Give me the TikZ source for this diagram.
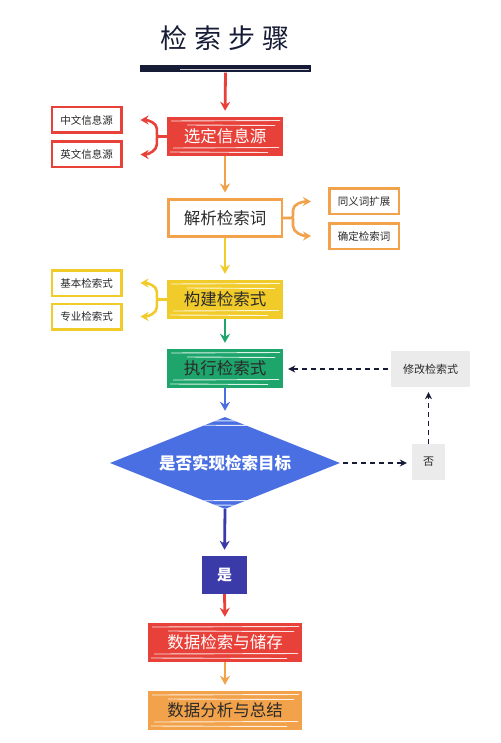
\documentclass[tikz,border=0pt]{standalone}
\usepackage{fontspec}
\setmainfont{Noto Sans CJK SC}
\usetikzlibrary{arrows.meta,shapes.geometric}
\definecolor{cred}{HTML}{E8413A}
\definecolor{corange}{HTML}{F1A24A}
\definecolor{cyellow}{HTML}{F1CB2A}
\definecolor{cgreen}{HTML}{1DA56B}
\definecolor{cblue}{HTML}{4A6FE3}
\definecolor{cindigo}{HTML}{3A3AA8}
\definecolor{cgray}{HTML}{EBEBEB}
\definecolor{cnavy}{HTML}{161B36}
\definecolor{textdark}{HTML}{2A2A2A}
\begin{document}
\begin{tikzpicture}[x=1pt,y=-1pt,
  arr/.style={line width=2.8pt,-{Stealth[length=9pt,width=10pt]},shorten >=6pt},
  brace/.style={line width=2.6pt,-{Stealth[length=8pt,width=9pt]},rounded corners=2pt},
  dasharr/.style={line width=1.8pt,cnavy,dash pattern=on 5pt off 4pt,-{Stealth[length=7pt,width=7pt]}},
  fillbox/.style={minimum width=116pt,minimum height=39pt,inner sep=0pt,
     font=\fontsize{16.5}{16.5}\selectfont,streaks},
  whitebox/.style={draw,fill=white,line width=2.5pt,minimum width=113.5pt,minimum height=36.5pt,
     inner sep=0pt,font=\fontsize{16.5}{16.5}\selectfont,text=textdark},
  smallbox/.style={draw,fill=white,line width=2.5pt,minimum width=69.5pt,minimum height=25.5pt,
     inner sep=0pt,font=\fontsize{10.5}{10.5}\selectfont,text=textdark},
  graybox/.style={fill=cgray,inner sep=0pt,font=\fontsize{11}{11}\selectfont,text=textdark},
  streaks/.style={path picture={
     \draw[white,line width=0.9pt,opacity=0.85]
       ([xshift=4pt,yshift=-4pt]path picture bounding box.north west) -- ([xshift=-3pt,yshift=-3.5pt]path picture bounding box.north east)
       ([xshift=20pt,yshift=-8pt]path picture bounding box.north west) -- ([xshift=-8pt,yshift=-8.5pt]path picture bounding box.north east)
       ([xshift=6pt,yshift=8pt]path picture bounding box.south west) -- ([xshift=-4pt,yshift=8.5pt]path picture bounding box.south east)
       ([xshift=3pt,yshift=4pt]path picture bounding box.south west) -- ([xshift=-15pt,yshift=3.5pt]path picture bounding box.south east);
  }}
]
\useasboundingbox (0,0) rectangle (500,743);
\fill[white] (0,0) rectangle (500,743);

% title and bar
\node[font=\fontsize{27}{27}\selectfont,text=cnavy] (title) at (225,38) {检\hspace{7pt}索\hspace{7pt}步\hspace{7pt}骤};
\node[fill=cnavy,minimum width=171pt,minimum height=7pt,inner sep=0pt] (bar) at (225.5,69) {};
\draw[white,line width=0.6pt,opacity=0.8] ([xshift=40pt]bar.west) -- ([xshift=-2pt]bar.east);

% main column
\node[fillbox,fill=cred,text=white] (sel) at (225,136.5) {选定信息源};
\node[whitebox,draw=corange] (parse) at (225,218) {解析检索词};
\node[fillbox,fill=cyellow,text=textdark] (build) at (225,299.5) {构建检索式};
\node[fillbox,fill=cgreen,text=textdark] (exec) at (225,368.5) {执行检索式};
\node[diamond,fill=cblue,shape aspect=3,minimum width=230pt,minimum height=92pt,inner sep=0pt,
      text=white,font=\bfseries\fontsize{16.5}{16.5}\selectfont,streaks] (goal) at (225,463) {是否实现检索目标};
\node[fill=cindigo,minimum width=45pt,minimum height=38pt,inner sep=0pt,text=white,
      font=\bfseries\fontsize{15}{15}\selectfont] (yes) at (224.5,575) {是};
\node[fillbox,fill=cred,text=white,minimum width=154pt] (store) at (225,642.5) {数据检索与储存};
\node[fillbox,fill=corange,text=textdark,minimum width=154pt] (anal) at (225,710.5) {数据分析与总结};

% side boxes
\node[smallbox,draw=cred] (zh) at (86.5,120) {中文信息源};
\node[smallbox,draw=cred] (en) at (86.5,154.5) {英文信息源};
\node[smallbox,draw=corange] (syn) at (364,201.5) {同义词扩展};
\node[smallbox,draw=corange] (conf) at (364,236) {确定检索词};
\node[smallbox,draw=cyellow] (basic) at (86.5,283) {基本检索式};
\node[smallbox,draw=cyellow] (pro) at (86.5,316.5) {专业检索式};
\node[graybox,minimum width=79pt,minimum height=36pt] (modify) at (430.5,369) {修改检索式};
\node[graybox,minimum width=33pt,minimum height=36pt] (no) at (428.5,462) {否};

% main arrows
\draw[arr,cred] (bar.south) -- (sel.north);
\draw[arr,corange] (sel.south) -- (parse.north);
\draw[arr,cyellow] (parse.south) -- (build.north);
\draw[arr,cgreen] (build.south) -- (exec.north);
\draw[arr,cblue] (exec.south) -- (goal.north);
\draw[arr,cindigo] (goal.south) -- (yes.north);
\draw[arr,cred] (yes.south) -- (store.north);
\draw[arr,corange] (store.south) -- (anal.north);

% braces
\draw[brace,cred] (sel.west) -- ++(-10,0) coordinate (j1) -- ++(0,-6) to[out=90,in=0] ([xshift=18pt]zh.east);
\draw[brace,cred] (j1) -- ++(0,6) to[out=-90,in=0] ([xshift=18pt]en.east);
\draw[brace,corange] (parse.east) -- ++(10,0) coordinate (j2) -- ++(0,-6) to[out=90,in=180] ([xshift=-17pt]syn.west);
\draw[brace,corange] (j2) -- ++(0,6) to[out=-90,in=180] ([xshift=-17pt]conf.west);
\draw[brace,cyellow] (build.west) -- ++(-10,0) coordinate (j3) -- ++(0,-6) to[out=90,in=0] ([xshift=18pt]basic.east);
\draw[brace,cyellow] (j3) -- ++(0,6) to[out=-90,in=0] ([xshift=18pt]pro.east);

% dashed feedback loop
\draw[dasharr,shorten <=3pt,shorten >=5pt] (goal.east) -- (goal.east -| no.west);
\draw[dasharr,shorten >=5pt] (no.north) -- (no.north |- modify.south);
\draw[dasharr,shorten <=3pt,shorten >=5pt] (modify.west) -- (modify.west -| exec.east);
\end{tikzpicture}
\end{document}
